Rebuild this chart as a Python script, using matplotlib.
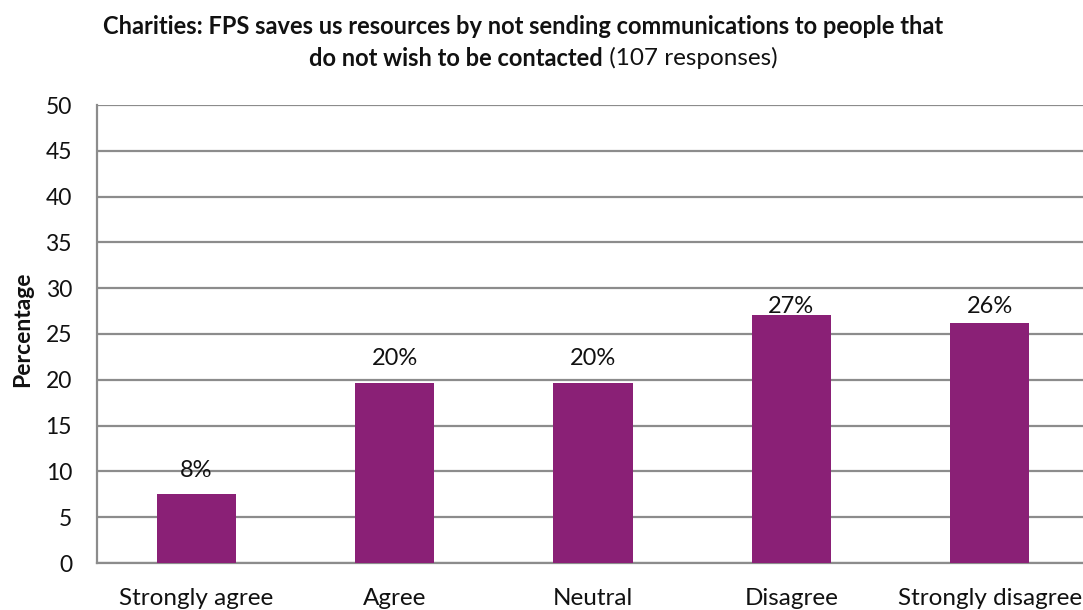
import matplotlib
matplotlib.use("Agg")
import matplotlib.pyplot as plt

categories = ["Strongly agree", "Agree", "Neutral", "Disagree", "Strongly disagree"]
percentages = [7.5, 19.6, 19.6, 27.1, 26.2]
y_ticks = [0, 5, 10, 15, 20, 25, 30, 35, 40, 45, 50]

# gap (points) between each bar top and the baseline of its value label
label_offsets = [12.2, 13.3, 13.3, 1.4, 7.2]

BAR_COLOR = "#8A2076"
GRID_COLOR = "#8C8C8C"
TEXT_COLOR = "#111111"
FONT = ["Lato", "DejaVu Sans"]

plt.rcParams["font.family"] = FONT

W, H = 1083, 610
fig = plt.figure(figsize=(W / 100, H / 100), dpi=100)
left, right, top, bottom = 97, 1089, 105, 563
ax = fig.add_axes([left / W, 1 - bottom / H, (right - left) / W, (bottom - top) / H])

x = list(range(len(categories)))
ax.bar(x, percentages, width=0.4, color=BAR_COLOR, zorder=3)

for xi, v, off in zip(x, percentages, label_offsets):
    ax.annotate(f"{int(v + 0.5)}%", (xi, v), xytext=(0, off), textcoords="offset points",
                ha="center", va="baseline", fontsize=17, color=TEXT_COLOR, zorder=4)

ax.set_xlim(-0.5, len(categories) - 0.5)
ax.set_ylim(0, 50)
ax.set_yticks(y_ticks)
ax.set_yticklabels([str(t) for t in y_ticks], fontsize=16.5)
ax.set_xticks(x)
ax.set_xticklabels(categories, fontsize=17.5)
ax.tick_params(axis="both", length=0, colors=TEXT_COLOR)
ax.tick_params(axis="x", pad=18)
ax.tick_params(axis="y", pad=18)

ax.yaxis.grid(True, color=GRID_COLOR, linewidth=1.6, zorder=0)
ax.set_axisbelow(True)
for side in ["top", "right"]:
    ax.spines[side].set_visible(False)
for side in ["left", "bottom"]:
    ax.spines[side].set_color(GRID_COLOR)
    ax.spines[side].set_linewidth(1.6)

fig.text(23 / W, 1 - 329 / H, "Percentage", rotation=90, ha="center", va="center",
         fontsize=16.5, fontweight="bold", color=TEXT_COLOR)

fig.text(523 / W, 1 - 27 / H,
         "Charities: FPS saves us resources by not sending communications to people that",
         ha="center", va="center", fontsize=17, fontweight="bold", color=TEXT_COLOR)
# second title line: bold part followed by a regular part
t1 = fig.text(0, 1 - 58 / H, "do not wish to be contacted", ha="left", va="center",
              fontsize=17, fontweight="bold", color=TEXT_COLOR)
t2 = fig.text(0, 1 - 58 / H, " (107 responses)", ha="left", va="center",
              fontsize=17.5, color=TEXT_COLOR)
fig.canvas.draw()
r = fig.canvas.get_renderer()
w1 = t1.get_window_extent(r).width
w2 = t2.get_window_extent(r).width
start = 543 - (w1 + w2) / 2
t1.set_x(start / W)
t2.set_x((start + w1) / W)

fig.savefig("out.png", dpi=100)
